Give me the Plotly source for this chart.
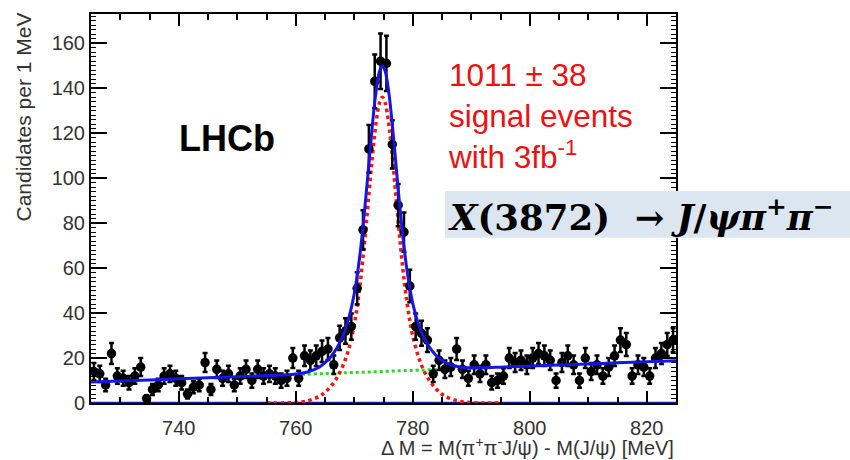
import math
import plotly.graph_objects as go

# ---------------- data ----------------
mass_lo = 725.0          # lower edge of first 1 MeV bin
bin_width = 1.0
counts = [14, 13, 8, 22, 12, 11, 9, 12, 16, 2,
          6, 8, 12, 13, 11, 9, 4, 7, 8, 18,
          6, 15, 11, 13, 8, 12, 15, 10, 15, 12,
          13, 12, 10, 11, 20, 11, 21, 19, 21, 23,
          24, 17, 29, 32, 34, 51, 77, 113, 143, 152,
          151, 115, 88, 76, 52, 34, 31, 28, 13, 19,
          15, 16, 24, 15, 11, 17, 13, 17, 9, 10,
          12, 20, 18, 19, 17, 20, 22, 21, 19, 10,
          18, 21, 17, 10, 20, 14, 17, 12, 16, 21,
          28, 26, 12, 17, 16, 12, 20, 22, 26, 28]

# fit curves
fit_x = [725, 730, 735, 740, 745, 750, 755, 758, 760, 762, 764, 765, 766, 767, 768,
         769, 770, 770.5, 771, 771.5, 772, 772.5, 773, 773.5, 774, 774.3, 774.8,
         775.3, 775.6, 776, 776.5, 777, 777.5, 778, 778.5, 779, 779.5, 780, 781,
         782, 783, 784, 785, 786, 788, 790, 792, 795, 800, 805, 810, 815, 820, 825]
sig_fit = [0, 0, 0, 0, 0, 0, 0.01, 0.06, 0.26, 0.96, 2.9, 4.8, 7.4, 11.1, 16.2,
           23.6, 35.0, 43.0, 52.9, 64.8, 78.2, 92.7, 107.0, 119.8, 129.5, 133.4, 136.0,
           133.4, 129.5, 122.1, 109.8, 95.6, 81.1, 67.3, 55.2, 44.8, 36.5, 29.8, 20.3,
           13.9, 9.5, 6.2, 3.9, 2.4, 0.75, 0.2, 0.04, 0, 0, 0, 0, 0, 0, 0]
bkg_fit = [9.3, 9.78, 10.25, 10.73, 11.2, 11.68, 12.15, 12.44, 12.63, 12.82, 13.0, 13.1,
           13.2, 13.29, 13.39, 13.48, 13.58, 13.62, 13.67, 13.72, 13.77, 13.81, 13.86,
           13.91, 13.96, 13.98, 14.03, 14.08, 14.1, 14.15, 14.2, 14.25, 14.29, 14.34,
           14.39, 14.44, 14.48, 14.53, 14.63, 14.72, 14.82, 14.91, 15.0, 15.1, 15.29,
           15.48, 15.67, 15.95, 16.43, 16.9, 17.38, 17.85, 18.33, 18.8]
zero_x = [725, 825]
zero_y = [0, 0]

sig_range = (755, 795)
bkg_range = (760, 792)

x_range = [725, 825]
y_range = [0, 173]

# ---------------- derived ----------------
bin_centers = [mass_lo + bin_width * (i + 0.5) for i in range(len(counts))]
errors = [math.sqrt(c) for c in counts]
total_fit = [b + s for b, s in zip(bkg_fit, sig_fit)]
sig_pts = [(x, s) for x, s in zip(fit_x, sig_fit) if sig_range[0] <= x <= sig_range[1]]
bkg_pts = [(x, b) for x, b in zip(fit_x, bkg_fit) if bkg_range[0] <= x <= bkg_range[1]]

fig = go.Figure()

fig.add_trace(go.Scatter(x=zero_x, y=zero_y, mode="lines",
                         line=dict(color="#1a1a9a", width=2.5), cliponaxis=False))
fig.add_trace(go.Scatter(x=[p[0] for p in bkg_pts], y=[p[1] for p in bkg_pts], mode="lines",
                         line=dict(color="#22dd22", width=3, dash="dot", shape="spline")))
fig.add_trace(go.Scatter(x=[p[0] for p in sig_pts], y=[p[1] for p in sig_pts], mode="lines",
                         line=dict(color="#ff1010", width=3.5, dash="dot", shape="spline")))
fig.add_trace(go.Scatter(x=bin_centers, y=counts, mode="markers",
                         marker=dict(color="black", size=9.5),
                         error_y=dict(type="data", array=errors, color="black",
                                      thickness=2.5, width=2.5)))
fig.add_trace(go.Scatter(x=fit_x, y=total_fit, mode="lines",
                         line=dict(color="#1515e6", width=3, shape="spline")))

W0, W1, H0, H1 = 91, 676, 12, 403


def px(xp):
    return (xp - W0) / (W1 - W0)


def py(yp):
    return (H1 - yp) / (H1 - H0)


fig.update_layout(
    width=850, height=460,
    margin=dict(l=W0, r=850 - W1, t=H0, b=460 - H1),
    paper_bgcolor="white", plot_bgcolor="white",
    showlegend=False,
    font=dict(family="Liberation Sans, Arial, sans-serif", color="#222"),
    xaxis=dict(range=x_range, dtick=20, tick0=0, ticks="inside", ticklen=12, tickwidth=2,
               tickcolor="black", showline=True, linewidth=2, linecolor="black",
               mirror="allticks", showgrid=False, zeroline=False,
               tickfont=dict(size=20, color="#333"), ticklabelstandoff=6,
               minor=dict(dtick=5, ticks="inside", ticklen=6, tickwidth=1.5,
                          tickcolor="black", showgrid=False)),
    yaxis=dict(range=y_range, dtick=20, tick0=0, ticks="inside", ticklen=16, tickwidth=2,
               tickcolor="black", showline=True, linewidth=2, linecolor="black",
               mirror="allticks", showgrid=False, zeroline=False,
               tickfont=dict(size=20, color="#333"),
               minor=dict(dtick=2, ticks="inside", ticklen=5, tickwidth=1,
                          tickcolor="black", showgrid=False)),
    shapes=[dict(type="rect", xref="paper", yref="paper", layer="above",
                 x0=px(445), x1=px(850), y0=py(237), y1=py(190),
                 fillcolor="#dce6f1", line=dict(width=0))],
    annotations=[
        dict(text="Candidates per 1 MeV", xref="paper", yref="paper",
             x=px(24), y=py(9), xanchor="center", yanchor="top", textangle=-90,
             showarrow=False, font=dict(size=21, color="#333")),
        dict(text="Δ M = M(π<sup>+</sup>π<sup>-</sup>J/ψ) - M(J/ψ) [MeV]",
             xref="paper", yref="paper", x=1.0, y=py(447), xanchor="right",
             yanchor="middle", showarrow=False, font=dict(size=20, color="#333")),
        dict(text="<b>LHCb</b>", xref="paper", yref="paper", x=px(177), y=py(137),
             xanchor="left", yanchor="middle", showarrow=False,
             font=dict(size=36, color="black")),
        dict(text="1011 ± 38<br>signal events<br>with 3fb<sup>-1</sup>",
             xref="paper", yref="paper", x=px(446), y=py(53), xanchor="left",
             yanchor="top", align="left", showarrow=False,
             font=dict(size=31.5, color="#f01010")),
        dict(text="<b><i>X</i>(3872)&nbsp;&nbsp;→&nbsp;<i>J</i>/<i>ψπ</i><sup>+</sup><i>π</i><sup>−</sup></b>",
             xref="paper", yref="paper", x=px(446), y=py(214), xanchor="left",
             yanchor="middle", showarrow=False,
             font=dict(size=35.5, color="black", family="DejaVu Serif, serif")),
    ],
)

fig.write_html("out.html")
